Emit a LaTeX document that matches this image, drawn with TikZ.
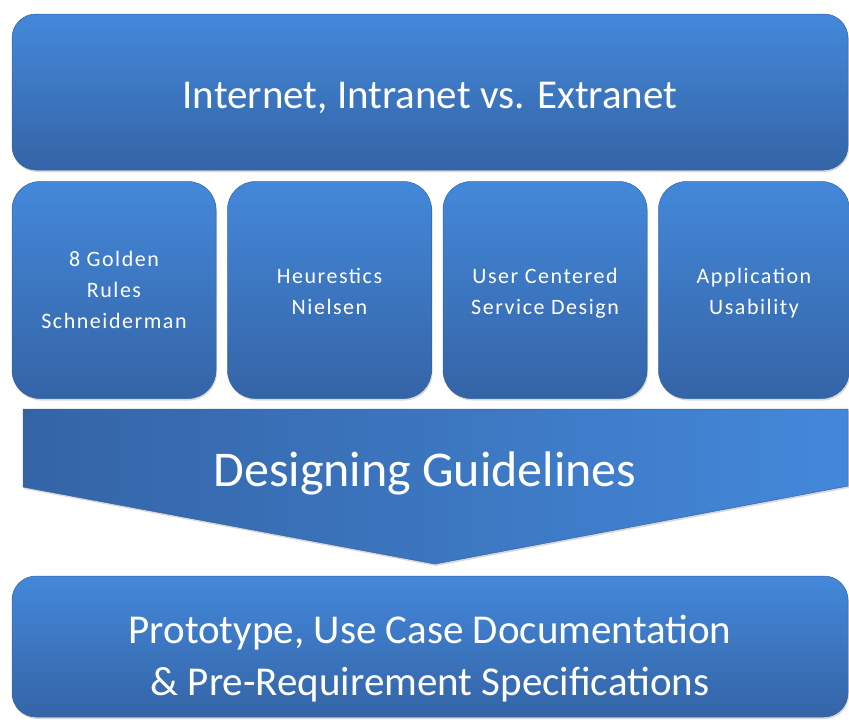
\documentclass[tikz,border=0pt]{standalone}
\usepackage{fontspec}
\setmainfont{Carlito}
\newfontfamily\spaced[LetterSpace=7]{Carlito}
\usetikzlibrary{positioning, shadows}

\definecolor{boxtop}{HTML}{4488DA}
\definecolor{boxbot}{HTML}{3464A6}

\begin{document}
\begin{tikzpicture}[
  x=1pt, y=-1pt,
  node distance=11pt and 11pt,
  panel/.style={rounded corners=24pt, top color=boxtop, bottom color=boxbot, draw=boxbot, line width=0.5pt, text=white, align=center, inner sep=0pt, drop shadow={shadow xshift=1pt, shadow yshift=-2pt, opacity=0.3}},
  widebox/.style={panel, minimum width=836pt, minimum height=156pt, font=\fontsize{41}{52}\selectfont},
  pillar/.style={panel, rounded corners=28pt, minimum width=204pt, minimum height=217pt, text height=49pt, text depth=0pt, font=\spaced\fontsize{22}{31}\selectfont},
  funnel/.style={left color=boxbot, right color=boxtop, draw=boxbot, line width=0.5pt, drop shadow={shadow xshift=1pt, shadow yshift=-2pt, opacity=0.3}}
]
\useasboundingbox (0,0) rectangle (849,726);

\node[widebox, text height=32pt, text depth=0pt] (net) at (430,92) {Internet, Intranet vs. Extranet};

\node[pillar, below right=11pt and 0pt of net.south west, text height=77pt] (golden) {8 Golden\\Rules\\Schneiderman};
\node[pillar, right=of golden] (nielsen) {Heurestics\\Nielsen};
\node[pillar, right=of nielsen] (service) {User Centered\\Service Design};
\node[pillar, right=of service, minimum width=191pt] (usab) {Application\\Usability};

% downward guideline arrow
\path[funnel] (23,409) -- (848,409) -- (848,486) -- (435,564) -- (23,487) -- cycle;
\node[text=white, font=\fontsize{50}{56}\selectfont, text height=33pt, text depth=0pt] (guide) at (425,470) {Designing Guidelines};

\node[widebox, minimum height=141pt, text height=97pt, text depth=0pt] (proto) at (430,646.5) {Prototype, Use Case Documentation\\\& Pre-Requirement Specifications};
\end{tikzpicture}
\end{document}
